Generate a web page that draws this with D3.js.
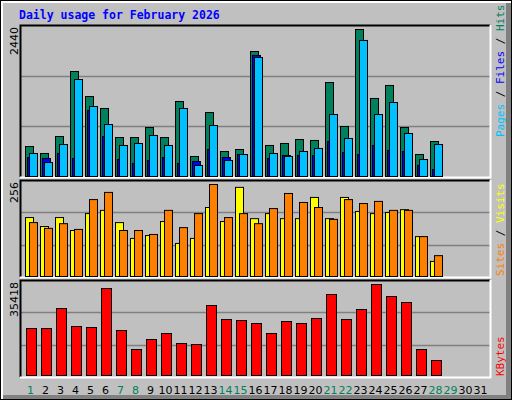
<!DOCTYPE html>
<html><head><meta charset="utf-8">
<script src="https://cdn.jsdelivr.net/npm/d3@7"></script>
<style>body{margin:0;background:#fff}</style>
</head><body>
<svg width="512" height="400"></svg>
<script>
const days = d3.range(1, 32);
const weekend = [1, 7, 8, 14, 15, 21, 22, 28, 29];
const hits = [498,382,664,1743,1328,1129,647,647,813,647,1245,332,1062,415,448,2075,515,548,614,598,1560,830,2440,1295,1511,813,365,581];
const files = [315,299,382,299,1096,664,282,216,266,315,216,249,448,315,365,2009,299,349,349,349,581,398,365,515,432,415,183,116];
const pages = [382,232,531,1610,1162,863,515,548,681,515,1129,183,847,266,365,1975,382,332,415,465,1029,631,2258,1029,1228,714,282,531];
const sites = [164,139,164,128,175,184,150,106,114,153,92,106,192,153,248,161,175,161,161,220,161,220,181,175,178,186,111,42];
const visits = [150,134,147,131,214,234,128,128,117,184,136,175,256,164,175,147,189,231,206,192,159,214,203,209,184,184,111,58];
const kbytes = [18292,18292,26076,19071,18682,33860,17514,10119,14011,16346,12454,12065,27244,21795,21406,20238,16346,21017,20238,22184,31525,21795,25687,35418,30747,28412,10119,5838];

const svg = d3.select('svg');
const mono = 'DejaVu Sans Mono';

// frame with bevel
svg.append('rect').attr('width', 512).attr('height', 400).attr('fill', '#000');
svg.append('rect').attr('x', 1).attr('y', 1).attr('width', 510).attr('height', 398).attr('fill', '#fff');
svg.append('rect').attr('x', 3).attr('y', 3).attr('width', 508).attr('height', 396).attr('fill', '#808080');
svg.append('rect').attr('x', 3).attr('y', 3).attr('width', 503).attr('height', 392).attr('fill', '#c0c0c0');

svg.append('text').attr('x', 19).attr('y', 19)
    .attr('font-family', mono).attr('font-weight', 'bold').attr('font-size', 11.5)
    .attr('fill', '#0000ff').text('Daily usage for February 2026');

const x = d3.scaleBand().domain(days).range([22, 487]);

const panels = [
    {top: 25, bottom: 177, max: 2440, y0: 176, y1: 29},
    {top: 180, bottom: 277, max: 256, y0: 276, y1: 184},
    {top: 280, bottom: 377, max: 35418, y0: 375, y1: 284}
];

panels.forEach(p => {
    p.y = d3.scaleLinear().domain([0, p.max]).range([p.y0, p.y1]);
    const g = svg.append('g');
    // grid lines at thirds of the panel
    const h = p.bottom - p.top;
    [1/3, 2/3].forEach(f => {
        const yy = Math.round(p.bottom - h * f) + 0.5;
        g.append('line').attr('x1', 21).attr('x2', 490).attr('y1', yy).attr('y2', yy)
            .attr('stroke', '#808080').attr('stroke-width', 1.5);
    });
    g.append('path').attr('d', `M20.5,${p.bottom}V${p.top + 0.5}H490`)
        .attr('fill', 'none').attr('stroke', '#000').attr('stroke-width', 2);
    g.append('path').attr('d', `M20,${p.bottom + 0.5}H490.5V${p.top}`)
        .attr('fill', 'none').attr('stroke', '#fff').attr('stroke-width', 2);
    svg.append('text')
        .attr('transform', `translate(18,${p.top + 2}) rotate(-90)`)
        .attr('text-anchor', 'end').attr('font-family', 'DejaVu Sans').attr('font-size', 11)
        .text(p.max);
});

function bars(data, p, dx, w, color) {
    svg.append('g').selectAll('rect')
        .data(data)
        .join('rect')
        .attr('x', (d, i) => x(i + 1) + dx + 0.5)
        .attr('y', d => p.y(d) + 0.5)
        .attr('width', w)
        .attr('height', d => p.y0 - p.y(d))
        .attr('fill', color)
        .attr('stroke', '#000');
}

bars(hits, panels[0], 3, 8, '#00805c');
bars(files, panels[0], 5, 8, '#0000ff');
bars(pages, panels[0], 7, 8, '#00c0ff');
bars(sites, panels[1], 3, 8, '#ffff00');
bars(visits, panels[1], 7, 8, '#ff8000');
bars(kbytes, panels[2], 4, 10, '#ff0000');

// day labels
svg.append('g').selectAll('text')
    .data(days)
    .join('text')
    .attr('x', d => x(d) + x.bandwidth() / 2 + 1)
    .attr('y', 394)
    .attr('text-anchor', 'middle')
    .attr('font-family', 'DejaVu Sans').attr('font-size', 11)
    .attr('fill', d => weekend.includes(d) ? '#00805c' : '#000')
    .text(d => d);

// right-side legends
function legend(parts, yBottom) {
    const t = svg.append('text')
        .attr('transform', `translate(504,${yBottom}) rotate(-90)`)
        .attr('font-family', mono).attr('font-size', 11);
    parts.forEach(([s, c]) => t.append('tspan').attr('fill', c).text(s));
}
legend([['Pages', '#00c0ff'], [' / ', '#000'], ['Files', '#0000ff'], [' / ', '#000'], ['Hits', '#00805c']], 137);
legend([['Sites', '#ff8000'], [' / ', '#000'], ['Visits', '#ffff00']], 276);
legend([['KBytes', '#ff0000']], 376);
</script>
</body></html>
